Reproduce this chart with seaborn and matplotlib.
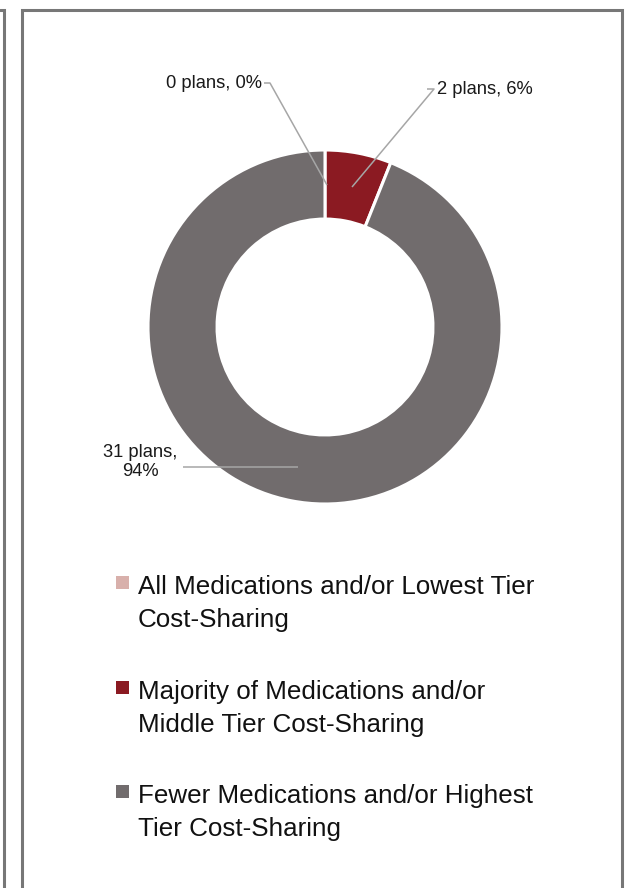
import matplotlib
matplotlib.use("Agg")
import matplotlib.pyplot as plt
import seaborn as sns
from matplotlib.patches import Rectangle
from matplotlib.lines import Line2D

# ---- data ----
categories = [
    "All Medications and/or Lowest Tier\nCost-Sharing",
    "Majority of Medications and/or\nMiddle Tier Cost-Sharing",
    "Fewer Medications and/or Highest\nTier Cost-Sharing",
]
plans = [0, 2, 31]
percents = [0, 6, 94]
slice_labels = ["0 plans, 0%", "2 plans, 6%", "31 plans,\n94%"]
colors = ["#D8B0AB", "#8B1A22", "#716C6D"]

sns.set_theme(style="white")
plt.rcParams['font.family'] = ['Liberation Sans Narrow', 'Liberation Sans', 'DejaVu Sans']

W, H = 629, 888
fig = plt.figure(figsize=(W / 100, H / 100), dpi=100)
fig.patch.set_facecolor("white")

# donut axes: centre (325,327) px, outer radius 177 px
R = 177.0
cx, cy = 325.0, 327.0
half = 250.0
ax = fig.add_axes([(cx - half) / W, 1 - (cy + half) / H, 2 * half / W, 2 * half / H])

wedges, _ = ax.pie(plans, colors=colors, startangle=90, counterclock=False,
                   radius=1.0, wedgeprops=dict(width=0.39, edgecolor="white", linewidth=2.2))
ax.set_xlim(-half / R, half / R)
ax.set_ylim(-half / R, half / R)
ax.set_aspect("equal")
ax.axis("off")

def px(x, y):
    return ((x - cx) / R, (cy - y) / R)

lead_col = "#A6A6A6"
# label layouts (pixel positions)
label_layout = [
    dict(text=(262, 83), ha="right", line=[(264, 83), (270, 83), (327, 185)]),
    dict(text=(437, 90), ha="left", line=[(427, 89), (434, 89), (352, 187)]),
    dict(text=(140, 462), ha="center", line=[(183, 467), (298, 467)]),
]
for lab, lay in zip(slice_labels, label_layout):
    tx, ty = px(*lay["text"])
    ax.text(tx, ty, lab, ha=lay["ha"], va="center", fontsize=13.2, color="#1a1a1a",
            linespacing=1.2)
    pts = [px(*p) for p in lay["line"]]
    ax.plot([p[0] for p in pts], [p[1] for p in pts], color=lead_col, lw=1.1,
            solid_capstyle="butt")

# legend (manual, first-line aligned squares)
baselines = [593, 698, 802]
for lab, col, b in zip(categories, colors, baselines):
    fig.add_artist(Rectangle((116 / W, 1 - (b - 4) / H), 13 / W, 13 / H,
                             transform=fig.transFigure, facecolor=col, edgecolor="none"))
    fig.text(138 / W, 1 - (b + 34) / H, lab, ha="left", va="baseline", fontsize=18.7,
             color="#111111", linespacing=1.49)

# frames
fc = "#777777"
flw = 2.2
fig.add_artist(Line2D([22 / W, 22 / W, 622 / W, 622 / W], [0, 1 - 10 / H, 1 - 10 / H, 0],
                      transform=fig.transFigure, color=fc, lw=flw, solid_joinstyle="miter"))
fig.add_artist(Line2D([0, 4 / W, 4 / W], [1 - 10 / H, 1 - 10 / H, 0],
                      transform=fig.transFigure, color=fc, lw=flw, solid_joinstyle="miter"))

fig.savefig("out.png", dpi=100, facecolor="white")
